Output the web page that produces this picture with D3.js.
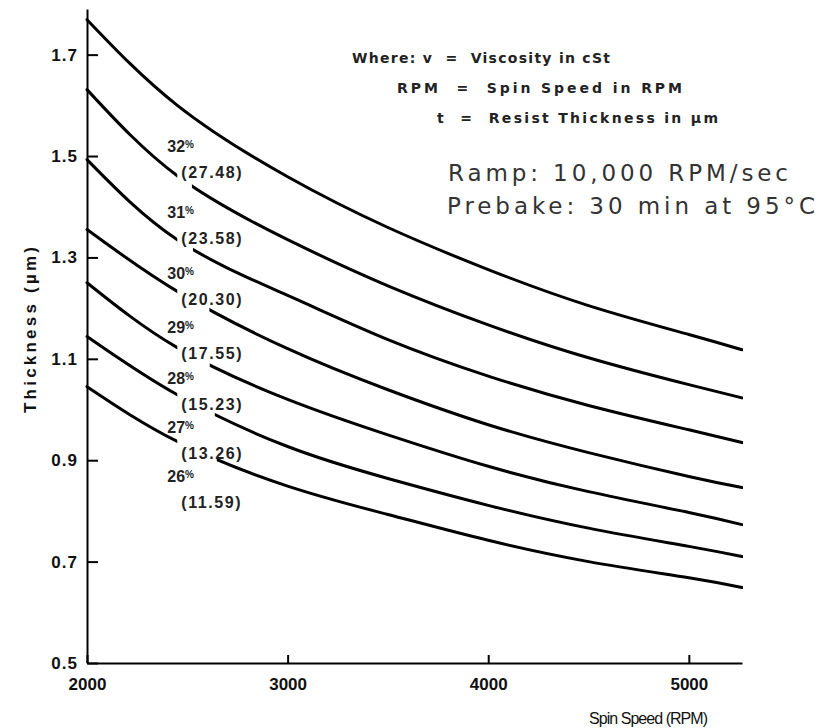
<!DOCTYPE html>
<html>
<head>
<meta charset="utf-8">
<style>
body { margin: 0; background: #fff; }
text { fill: #111; white-space: pre; }
.curve { fill: none; stroke: #000; stroke-width: 3; stroke-linecap: round; stroke-linejoin: round; }
.axis path, .axis line { stroke: #000; stroke-width: 2; }
.axis text { font-family: "Liberation Sans Narrow", "Liberation Sans", sans-serif; font-weight: bold; font-size: 17px; fill: #111; }
</style>
</head>
<body>
<svg width="821" height="728"></svg>
<script src="https://d3js.org/d3.v7.min.js"></script>
<script>
var rpm = [2000, 2450, 3000, 3500, 4000, 4500, 5000, 5265];

// resist thickness (um), one list per solids content
var t32 = [1.769, 1.600, 1.459, 1.359, 1.276, 1.205, 1.148, 1.118];
var t31 = [1.631, 1.461, 1.335, 1.244, 1.167, 1.102, 1.049, 1.023];
var t30 = [1.493, 1.335, 1.225, 1.138, 1.066, 1.008, 0.960, 0.935];
var t29 = [1.355, 1.233, 1.120, 1.039, 0.970, 0.915, 0.868, 0.846];
var t28 = [1.250, 1.122, 1.020, 0.950, 0.888, 0.838, 0.797, 0.773];
var t27 = [1.144, 1.029, 0.927, 0.864, 0.811, 0.766, 0.730, 0.710];
var t26 = [1.045, 0.937, 0.849, 0.793, 0.742, 0.700, 0.668, 0.649];

var solids = ["32", "31", "30", "29", "28", "27", "26"];
var viscosity = ["(27.48)", "(23.58)", "(20.30)", "(17.55)", "(15.23)", "(13.26)", "(11.59)"];

// curves are broken where the labels sit
var gapStart = 2450;
var gapEnd = [null, 2523, 2528, 2610, 2612, 2637, 2647];
// thickness level of each label pair, label drawn at this rpm
var labelT = [1.519, 1.389, 1.269, 1.162, 1.063, 0.965, 0.868];
var labelRpm = 2400;

var yTicks = [0.5, 0.7, 0.9, 1.1, 1.3, 1.5, 1.7];
var xTicks = [2000, 3000, 4000, 5000];

var svg = d3.select("svg");

var x = d3.scaleLinear().domain([2000, 5265]).range([87, 742]);
var y = d3.scaleLinear().domain([0.5, 1.79]).range([663, 9]);

var series = [t32, t31, t30, t29, t28, t27, t26];

var line = d3.line()
    .x(function(d) { return x(d[0]); })
    .y(function(d) { return y(d[1]); })
    .curve(d3.curveNatural);

var defs = svg.append("defs");

series.forEach(function(vals, i) {
  var pts = rpm.map(function(r, j) { return [r, vals[j]]; });
  var clip = defs.append("clipPath").attr("id", "clip" + i);
  if (gapEnd[i] == null) {
    clip.append("rect").attr("x", x(2000) - 5).attr("y", 0)
        .attr("width", x(5265) - x(2000) + 6).attr("height", 728);
  } else {
    clip.append("rect").attr("x", x(2000) - 5).attr("y", 0)
        .attr("width", x(gapStart) - x(2000) + 5).attr("height", 728);
    clip.append("rect").attr("x", x(gapEnd[i])).attr("y", 0)
        .attr("width", x(5265) - x(gapEnd[i]) + 1).attr("height", 728);
  }
  svg.append("path")
      .attr("class", "curve")
      .attr("clip-path", "url(#clip" + i + ")")
      .attr("d", line(pts));
});

// axes
svg.append("g")
    .attr("class", "axis")
    .attr("transform", "translate(" + x(2000) + ",0)")
    .call(d3.axisLeft(y).tickValues(yTicks).tickSize(-11).tickSizeOuter(0)
          .tickPadding(9).tickFormat(d3.format(".1f")))
  .selectAll("text")
    .attr("letter-spacing", 1);

svg.append("g")
    .attr("class", "axis xaxis")
    .attr("transform", "translate(0," + y(0.5) + ")")
    .call(d3.axisBottom(x).tickValues(xTicks).tickSize(-8).tickSizeOuter(0)
          .tickPadding(15).tickFormat(d3.format("d")));
svg.selectAll(".xaxis .tick line").attr("stroke-width", 1.2);

var sans = "'Liberation Sans', Arial, sans-serif";
var wide = "'DejaVu Sans', sans-serif";

// axis titles
svg.append("text")
    .attr("transform", "translate(36,330) rotate(-90)")
    .attr("text-anchor", "middle")
    .style("font-family", sans)
    .style("font-weight", "bold")
    .style("font-size", "17px")
    .attr("textLength", 166)
    .text("Thickness (\u00b5m)");

svg.append("text")
    .attr("x", 589).attr("y", 724)
    .style("font-family", sans)
    .style("font-size", "16px")
    .attr("textLength", 119)
    .text("Spin Speed (RPM)");

// curve labels
solids.forEach(function(s, i) {
  var t = svg.append("text")
      .attr("x", x(labelRpm))
      .attr("y", y(labelT[i]) + 6)
      .style("font-family", sans)
      .style("font-weight", "bold")
      .style("font-size", "16px")
      .style("fill", "#222");
  t.append("tspan").text(s);
  t.append("tspan").style("font-size", "10px").attr("dy", -4).text("%");
  svg.append("text")
      .attr("x", x(labelRpm) + 14)
      .attr("y", y(labelT[i]) + 32)
      .style("font-family", sans)
      .style("font-weight", "bold")
      .style("font-size", "16px")
      .style("fill", "#222")
      .attr("letter-spacing", 1.6)
      .text(viscosity[i]);
});

// legend block
var notes = [
  {txt: "Where: v  =  Viscosity in cSt", x: 352, y: 63, w: 258},
  {txt: "RPM  =  Spin Speed in RPM", x: 397, y: 93, w: 285},
  {txt: "t  =  Resist Thickness in \u00b5m", x: 437, y: 123, w: 281}
];
notes.forEach(function(n) {
  svg.append("text")
      .attr("x", n.x).attr("y", n.y)
      .style("font-family", wide)
      .style("font-weight", "bold")
      .style("font-size", "14px")
      .style("fill", "#222")
      .attr("textLength", n.w)
      .text(n.txt);
});

svg.append("text")
    .attr("x", 448).attr("y", 181)
    .style("font-family", wide)
    .style("font-size", "23px")
    .style("fill", "#333")
    .attr("textLength", 340)
    .text("Ramp: 10,000 RPM/sec");
svg.append("text")
    .attr("x", 447).attr("y", 214)
    .style("font-family", wide)
    .style("font-size", "23px")
    .style("fill", "#333")
    .attr("textLength", 368)
    .text("Prebake: 30 min at 95\u00b0C");
</script>
</body>
</html>
